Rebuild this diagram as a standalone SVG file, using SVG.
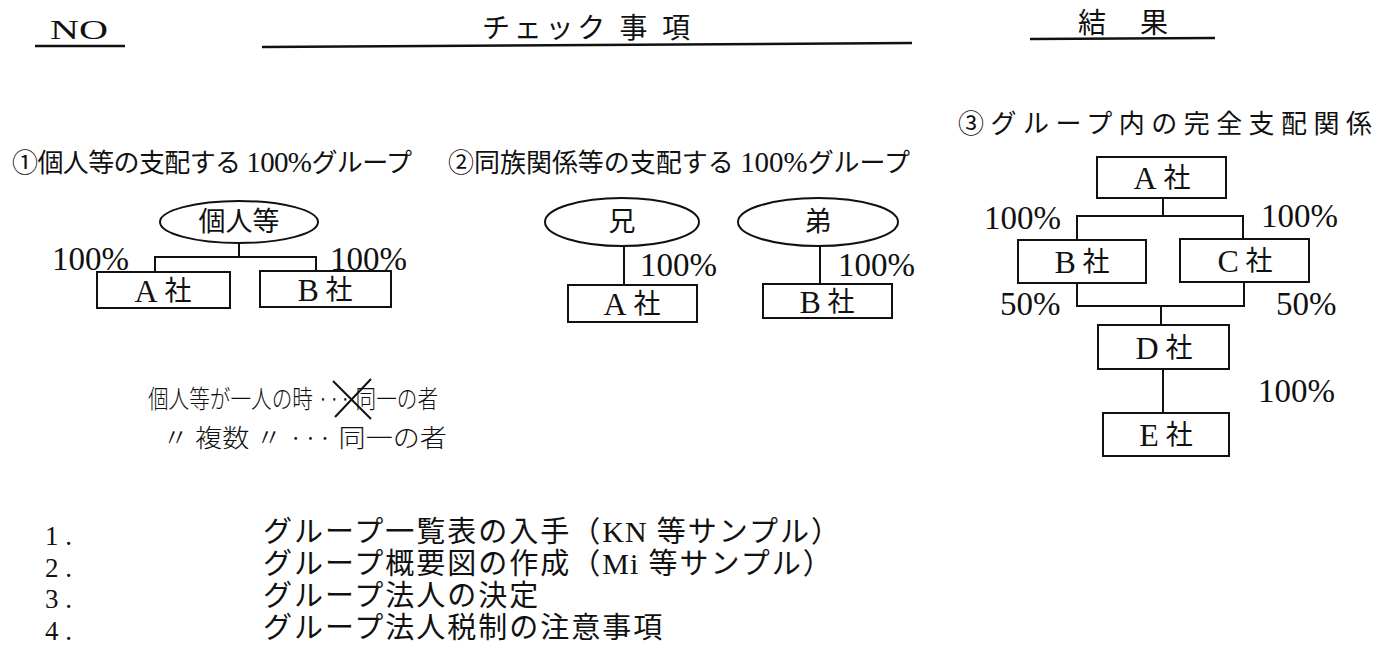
<svg xmlns="http://www.w3.org/2000/svg" width="1387" height="650" viewBox="0 0 1387 650">
<style>
  text { font-family: "Liberation Serif", "Noto Sans CJK JP", serif; fill: #111; }
  .hd { font-size: 28px; }
  .ttl { font-size: 26px; }
  .lbl { font-size: 27px; text-anchor: middle; dominant-baseline: central; }
  .lat { font-family: "Liberation Serif", serif; font-size: 32px; }
  .pct { font-size: 33px; }
  .hw { font-family: "Noto Sans CJK JP", sans-serif; font-size: 25px; font-weight: 300; }
  .li { font-size: 29px; letter-spacing: 2px; }
  .li .lat { font-size: 30px; letter-spacing: 1px; }
  .num { font-size: 27px; }
  .box { fill: #fff; stroke: #111; stroke-width: 2; }
  .ln { fill: none; stroke: #111; stroke-width: 2; }
  .ul { stroke: #111; stroke-width: 2.5; }
</style>
<rect width="1387" height="650" fill="#fff"/>

<g id="header">
  <text class="hd" x="50" y="39" font-size="34" textLength="58" lengthAdjust="spacingAndGlyphs">NO</text>
  <line class="ul" x1="35" y1="46" x2="125" y2="46"/>
  <text class="hd" x="482" y="38" textLength="208" lengthAdjust="spacing">チェック 事 項</text>
  <line class="ul" x1="262" y1="47" x2="912" y2="43"/>
  <text class="hd" x="1078" y="33" textLength="90" lengthAdjust="spacing">結 果</text>
  <line class="ul" x1="1030" y1="39" x2="1215" y2="38"/>
</g>

<g id="section1">
  <text class="ttl" x="12" y="172" textLength="400" lengthAdjust="spacing">①個人等の支配する <tspan font-size="29">100%</tspan>グループ</text>
  <g id="s1-kojin"><ellipse class="box" cx="239" cy="222" rx="79" ry="21"/><text class="lbl" x="239" y="222">個人等</text></g>
  <g id="s1-a"><rect class="box" x="97" y="272" width="133" height="36"/><text class="lbl" x="163" y="291"><tspan class="lat">A</tspan> 社</text></g>
  <g id="s1-b"><rect class="box" x="260" y="271" width="131" height="36"/><text class="lbl" x="325" y="290"><tspan class="lat">B</tspan> 社</text></g>
  <text class="pct" x="52" y="270">100%</text>
  <text class="pct" x="330" y="270">100%</text>
</g>

<g id="section2">
  <text class="ttl" x="448" y="172" textLength="462" lengthAdjust="spacing">②同族関係等の支配する <tspan font-size="29">100%</tspan>グループ</text>
  <g id="s2-ani"><ellipse class="box" cx="622" cy="222" rx="77" ry="24"/><text class="lbl" x="622" y="222">兄</text></g>
  <g id="s2-otouto"><ellipse class="box" cx="818" cy="222" rx="80" ry="24"/><text class="lbl" x="818" y="222">弟</text></g>
  <g id="s2-a"><rect class="box" x="568" y="285" width="129" height="37"/><text class="lbl" x="632" y="304"><tspan class="lat">A</tspan> 社</text></g>
  <g id="s2-b"><rect class="box" x="763" y="284" width="129" height="34"/><text class="lbl" x="827" y="302"><tspan class="lat">B</tspan> 社</text></g>
  <text class="pct" x="640" y="276">100%</text>
  <text class="pct" x="838" y="276">100%</text>
</g>

<g id="section3">
  <text class="ttl" x="958" y="133" font-size="31" textLength="414" lengthAdjust="spacing">③グループ内の完全支配関係</text>
  <g id="s3-a"><rect class="box" x="1097" y="157" width="129" height="41"/><text class="lbl" x="1162" y="178"><tspan class="lat">A</tspan> 社</text></g>
  <g id="s3-b"><rect class="box" x="1018" y="240" width="128" height="43"/><text class="lbl" x="1082" y="262"><tspan class="lat">B</tspan> 社</text></g>
  <g id="s3-c"><rect class="box" x="1180" y="239" width="129" height="43"/><text class="lbl" x="1245" y="261"><tspan class="lat">C</tspan> 社</text></g>
  <g id="s3-d"><rect class="box" x="1098" y="325" width="131" height="44"/><text class="lbl" x="1164" y="348"><tspan class="lat">D</tspan> 社</text></g>
  <g id="s3-e"><rect class="box" x="1103" y="413" width="126" height="43"/><text class="lbl" x="1166" y="435"><tspan class="lat">E</tspan> 社</text></g>
  <text class="pct" x="984" y="229">100%</text>
  <text class="pct" x="1261" y="227">100%</text>
  <text class="pct" x="1000" y="315">50%</text>
  <text class="pct" x="1276" y="315">50%</text>
  <text class="pct" x="1258" y="402">100%</text>
</g>

<g id="connectors">
  <path class="ln" d="M239 243 V257 M155 272 V257 H316 V271"/>
  <path class="ln" d="M624 246 V285"/>
  <path class="ln" d="M820 246 V284"/>
  <path class="ln" d="M1163 198 V216 M1077 240 V216 H1243 V239"/>
  <path class="ln" d="M1077 283 V306 H1244 V282 M1161 306 V325"/>
  <path class="ln" d="M1163 369 V413"/>
</g>

<g id="handwritten-note">
  <text class="hw" x="148" y="408" textLength="290" lengthAdjust="spacingAndGlyphs">個人等が一人の時 ··· 同一の者</text>
  <path class="ln" stroke-width="1.6" d="M333 381 L371 419 M371 379 L335 417"/>
  <text class="hw" x="162" y="447" textLength="285" lengthAdjust="spacingAndGlyphs">〃  複数 〃 ··· 同一の者</text>
</g>

<g id="checklist">
  <text class="num" x="45" y="545">1 .</text>
  <text class="li" x="263" y="542">グループ一覧表の入手（<tspan class="lat">KN</tspan> 等サンプル）</text>
  <text class="num" x="45" y="577">2 .</text>
  <text class="li" x="263" y="574">グループ概要図の作成（<tspan class="lat">Mi</tspan> 等サンプル）</text>
  <text class="num" x="45" y="608">3 .</text>
  <text class="li" x="263" y="606">グループ法人の決定</text>
  <text class="num" x="45" y="640">4 .</text>
  <text class="li" x="263" y="638">グループ法人税制の注意事項</text>
</g>
</svg>
